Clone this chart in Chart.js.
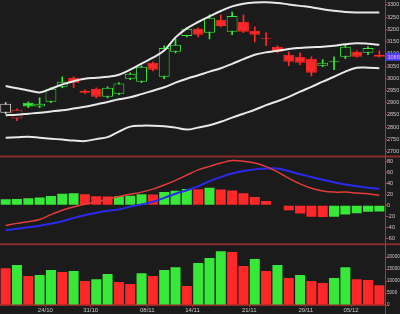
<!DOCTYPE html>
<html>
<head>
<meta charset="utf-8">
<script src="https://cdn.jsdelivr.net/npm/chart.js@4.4.1/dist/chart.umd.min.js"></script>
<style>
html, body { margin: 0; padding: 0; background: #1b1b1b; }
#wrap { width: 400px; height: 314px; }
</style>
</head>
<body>
<div id="wrap"><canvas id="chart" width="400" height="314"></canvas></div>
<script>
// trading days and the dates shown under the x axis
var days = ['18/10','19/10','20/10','21/10','24/10','25/10','26/10','27/10','31/10','01/11',
  '02/11','03/11','04/11','08/11','09/11','10/11','11/11','14/11','15/11','16/11',
  '17/11','18/11','21/11','22/11','23/11','24/11','25/11','29/11','30/11','01/12',
  '02/12','05/12','06/12','07/12'];
var tickDays = ['24/10','31/10','08/11','14/11','21/11','29/11','05/12'];

// axis tick labels of the three panels
var priceTicks = [2700,2750,2800,2850,2900,2950,3000,3050,3100,3150,3200,3250,3300];
var macdTicks = [-60,-40,-20,0,20,40,60,80];
var volTicks = [0,5000,10000,15000,20000];

// candles
var open  = [2859,2835,2900,2884,2904,2965,3002,2949,2957,2924,2937,2998,2986,3063,3006,3108,3173,
  3202,3186,3239,3190,3231,3194,3163,3129,3096,3088,3080,3051,3065,3088,3108,3104,3096];
var high  = [2900,2875,2904,2920,2961,3006,3006,2953,2961,2965,2982,3022,3051,3067,3133,3161,3206,
  3206,3259,3259,3271,3259,3210,3186,3133,3108,3104,3088,3076,3088,3137,3112,3129,3112];
var low   = [2855,2826,2880,2880,2900,2961,2961,2937,2920,2920,2933,2994,2982,3030,2998,3104,3169,
  3169,3161,3210,3178,3186,3149,3133,3104,3051,3055,3010,3047,3035,3080,3086,3096,3086];
var close = [2896,2871,2884,2896,2957,2986,2982,2941,2924,2961,2978,3018,3047,3035,3124,3137,3202,
  3178,3247,3214,3255,3190,3178,3159,3108,3067,3063,3022,3063,3068,3129,3088,3124,3088];

// bollinger bands
var bandUpper = [2968,2959,2950,2942,2957,2975,2988,2998,3002,3006,3014,3035,3060,3084,3113,3167,3204,
  3230,3253,3275,3294,3305,3310,3311,3308,3302,3296,3290,3282,3276,3271,3269,3269,3269];
var bandMid = [2849,2851,2855,2859,2864,2869,2876,2883,2893,2903,2914,2922,2935,2949,2963,2982,2998,
  3012,3027,3041,3059,3078,3096,3106,3112,3120,3124,3127,3129,3133,3139,3143,3141,3137];
var bandLower = [2757,2759,2761,2757,2753,2749,2745,2743,2751,2759,2782,2802,2806,2806,2804,2798,2790,
  2798,2808,2822,2839,2855,2871,2890,2906,2924,2945,2965,2986,3006,3027,3043,3043,3041];

// macd
var macdLine = [-37,-33,-30,-26,-17,-9,-3,2,6,11,16,20,24,29.5,37,45.5,55,64.5,71,77,81.5,80.5,77,70.5,
  61,49.5,39,31,26,24,24,22.5,21,18];
var signalLine = [-45.5,-43,-40,-37.5,-33.5,-29,-23,-18,-13.5,-10,-7.5,-2.5,1.5,6.5,13.5,21,27.5,34.5,
  44,51.5,58,62.5,65.5,67,67,62.5,56.5,51.5,46.5,42,38,34.5,32,30];
var macdHist = [11,11.5,12.7,14,17,21,22,20,16.6,16.2,16.5,17.6,20.2,19.8,24,26.7,29.8,29.4,32,29,27,
  22,15,8,-0.8,-9,-15,-21,-21.5,-21,-17,-14.5,-11.8,-11.5];

// volume
var volume = [15400,16700,12100,12500,14600,13750,14200,10000,10800,12900,9600,8750,13300,12100,14600,
  15800,7900,17500,19600,22500,22100,16250,19200,14200,16700,11250,12500,10000,9200,11250,15800,
  10800,10400,8300];

var UP = '#38e838', DOWN = '#ff2828', FIRST = '#d4d4d4', BG = '#1b1b1b';
var AXIS = '#e42020', SEP = '#8a2a2a', TXT = '#c8c8c8';
var FONT = "'Liberation Sans Narrow', 'Liberation Sans', sans-serif";

function candleColor(i){
  if (i === 0) return FIRST;
  return close[i] >= close[i-1] ? UP : DOWN;
}
function risingColor(arr, i, first){
  if (i === 0) return first;
  return arr[i] > arr[i-1] ? UP : DOWN;
}

var bodies = days.map(function(d, i){ return [Math.min(open[i], close[i]), Math.max(open[i], close[i])]; });
var wicks = days.map(function(d, i){ return [low[i], high[i]]; });

function rightAxis(stackWeight, min, max, tickValues, fontSize){
  return {
    position: 'right', stack: 'panels', stackWeight: stackWeight,
    min: min, max: max,
    border: { color: AXIS, width: 1 },
    grid: { drawOnChartArea: false, color: AXIS, tickLength: 2 },
    ticks: { autoSkip: false, padding: 0, color: TXT,
      font: { family: FONT, size: fontSize },
      callback: function(v){ return String(v); } },
    afterBuildTicks: function(s){
      s.ticks = tickValues.map(function(v){ return { value: v }; });
    },
    afterFit: function(s){ s.width = 15; s.paddingTop = 0; s.paddingBottom = 0; }
  };
}

var panelsPlugin = {
  id: 'panels',
  beforeDraw: function(chart){
    var c = chart.ctx;
    c.save();
    c.fillStyle = BG;
    c.fillRect(0, 0, chart.width, chart.height);
    c.restore();
  },
  afterDraw: function(chart){
    var c = chart.ctx, s = chart.scales, area = chart.chartArea;
    c.save();
    // panel separators
    c.strokeStyle = SEP;
    c.lineWidth = 2;
    [s.macd.top, s.vol.top].forEach(function(y){
      c.beginPath(); c.moveTo(0, y); c.lineTo(chart.width, y); c.stroke();
    });
    // axis line runs down to the bottom
    c.strokeStyle = AXIS;
    c.lineWidth = 1;
    c.beginPath(); c.moveTo(area.right + 0.5, 0); c.lineTo(area.right + 0.5, chart.height); c.stroke();
    // last close marker
    var last = close[close.length - 1];
    var y = s.y.getPixelForValue(last);
    c.fillStyle = '#4a44ee';
    c.fillRect(area.right + 1, y - 4, chart.width - area.right - 1, 8);
    c.fillStyle = '#ff9cff';
    c.font = '5.5px ' + FONT;
    c.textBaseline = 'middle';
    c.fillText(String(last), area.right + 2.5, y + 0.5);
    c.restore();
  }
};

new Chart(document.getElementById('chart'), {
  type: 'bar',
  data: {
    labels: days,
    datasets: [
      { type: 'line', data: bandUpper, yAxisID: 'y', borderColor: '#e8e8e8', borderWidth: 2, pointRadius: 0, tension: 0.35, order: 0 },
      { type: 'line', data: bandMid, yAxisID: 'y', borderColor: '#e8e8e8', borderWidth: 2, pointRadius: 0, tension: 0.35, order: 0 },
      { type: 'line', data: bandLower, yAxisID: 'y', borderColor: '#e8e8e8', borderWidth: 2, pointRadius: 0, tension: 0.35, order: 0 },
      { data: bodies, yAxisID: 'y', grouped: false, barPercentage: 0.96, categoryPercentage: 1,
        minBarLength: 1, borderWidth: 1, borderSkipped: false, order: 1,
        borderColor: function(ctx){ return candleColor(ctx.dataIndex); },
        backgroundColor: function(ctx){
          var i = ctx.dataIndex;
          return close[i] > open[i] ? BG : candleColor(i);
        } },
      { data: wicks, yAxisID: 'y', grouped: false, barThickness: 1, order: 2,
        backgroundColor: function(ctx){ return candleColor(ctx.dataIndex); } },
      { type: 'line', data: macdLine, yAxisID: 'macd', borderColor: '#e23c3c', borderWidth: 1.5, pointRadius: 0, tension: 0.35, order: 0 },
      { type: 'line', data: signalLine, yAxisID: 'macd', borderColor: '#2a2aee', borderWidth: 2, pointRadius: 0, tension: 0.35, order: 0 },
      { data: macdHist, yAxisID: 'macd', grouped: false, barPercentage: 0.88, categoryPercentage: 1, order: 3,
        backgroundColor: function(ctx){ return risingColor(macdHist, ctx.dataIndex, UP); } },
      { data: volume, yAxisID: 'vol', grouped: false, barPercentage: 0.88, categoryPercentage: 1, order: 3,
        backgroundColor: function(ctx){ return risingColor(volume, ctx.dataIndex, DOWN); } }
    ]
  },
  options: {
    responsive: false,
    animation: false,
    events: [],
    layout: { padding: 0 },
    plugins: { legend: { display: false }, tooltip: { enabled: false } },
    scales: {
      x: {
        offset: true,
        border: { color: SEP, width: 2 },
        grid: { offset: true, drawOnChartArea: false, tickLength: 2,
          color: function(ctx){ return tickDays.indexOf(days[ctx.index]) >= 0 ? AXIS : 'rgba(0,0,0,0)'; } },
        ticks: { autoSkip: false, maxRotation: 0, padding: 0, labelOffset: -5.6, color: TXT,
          font: { family: FONT, size: 6 },
          callback: function(v, i){ return tickDays.indexOf(days[i]) >= 0 ? days[i] : ''; } },
        afterFit: function(s){ s.height = 9; s.paddingLeft = 0; s.paddingRight = 0; }
      },
      y: rightAxis(157, 2680, 3320, priceTicks, 5.5),
      macd: rightAxis(88, -71, 89, macdTicks, 5.5),
      vol: rightAxis(61, 0, 25400, volTicks, 4.6)
    }
  },
  plugins: [panelsPlugin]
});
</script>
</body>
</html>
